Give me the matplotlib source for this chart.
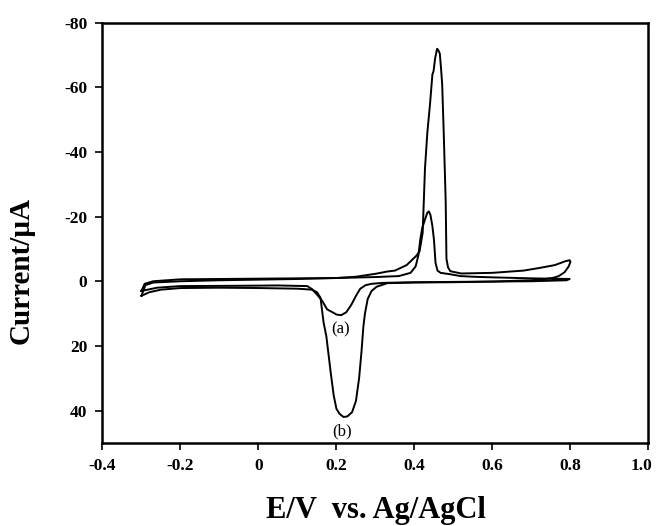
import matplotlib
matplotlib.use('Agg')
import matplotlib.pyplot as plt
import matplotlib.transforms as mtransforms

# ── Curve (a): forward scan then reverse scan ────────────────────────────────
E_a = [-0.300, -0.292, -0.270, -0.200, -0.100, 0.000, 0.100, 0.200, 0.300,
       0.360, 0.390, 0.403, 0.410, 0.415, 0.420, 0.428, 0.433, 0.437, 0.441,
       0.446, 0.450, 0.454, 0.459, 0.467, 0.490, 0.518, 0.550, 0.600, 0.700,
       0.798,
       0.790, 0.700, 0.600, 0.500, 0.400, 0.320, 0.290, 0.275, 0.261, 0.250,
       0.238, 0.225, 0.212, 0.200, 0.193, 0.176, 0.163, 0.150, 0.137, 0.125,
       0.050, -0.050, -0.200, -0.260, -0.300]
I_a = [3.0, 0.8, 0.0, -0.6, -0.7, -0.8, -0.9, -1.0, -1.3,
       -1.6, -2.6, -4.6, -8.0, -13.0, -16.5, -19.5, -21.2, -21.6, -20.5,
       -17.0, -12.8, -5.7, -3.3, -2.6, -2.2, -1.6, -1.4, -1.2, -0.9,
       -0.7,
       -0.3, 0.0, 0.1, 0.2, 0.3, 0.5, 0.8, 1.2, 2.3, 4.5,
       7.3, 9.6, 10.5, 10.3, 9.8, 8.7, 6.0, 4.1, 2.4, 1.5,
       1.3, 1.4, 1.5, 2.0, 3.0]

# ── Curve (b): forward scan then reverse scan ────────────────────────────────
E_b = [-0.300, -0.290, -0.270, -0.200, -0.100, 0.000, 0.100, 0.200, 0.250,
       0.300, 0.330, 0.350, 0.380, 0.405, 0.413, 0.421, 0.424, 0.427, 0.433,
       0.440, 0.446, 0.449, 0.453, 0.458, 0.461, 0.465, 0.468, 0.471, 0.475,
       0.480, 0.482, 0.486, 0.492, 0.520, 0.600, 0.680, 0.720, 0.760, 0.787,
       0.798,
       0.800, 0.795, 0.785, 0.770, 0.757, 0.730, 0.697, 0.600, 0.500, 0.400,
       0.330, 0.303, 0.290, 0.280, 0.273, 0.269, 0.264, 0.258, 0.250, 0.240,
       0.228, 0.218, 0.208, 0.200, 0.193, 0.186, 0.180, 0.174, 0.167, 0.162,
       0.159, 0.150, 0.137, 0.100, 0.000, -0.100, -0.200, -0.250, -0.280,
       -0.300]
I_b = [4.5, 1.2, 0.4, 0.0, -0.3, -0.5, -0.7, -1.0, -1.4,
       -2.3, -3.0, -3.3, -5.0, -7.9, -9.2, -15.0, -25.0, -35.0, -46.0,
       -55.0, -64.0, -65.0, -69.0, -71.9, -71.5, -70.4, -66.0, -61.0, -46.0,
       -25.0, -7.0, -4.3, -3.1, -2.4, -2.6, -3.3, -4.1, -5.0, -6.2,
       -6.5,
       -6.0, -4.5, -2.8, -1.6, -1.1, -0.6, -0.3, 0.1, 0.3, 0.4,
       0.6, 1.7, 3.0, 5.5, 10.0, 14.0, 22.0, 30.0, 37.0, 40.5,
       41.8, 42.0, 41.0, 39.5, 35.4, 29.0, 23.0, 17.0, 12.8, 8.0,
       5.1, 3.4, 2.6, 2.3, 2.1, 2.0, 2.1, 2.6, 3.4,
       4.5]

x_ticks = [-0.4, -0.2, 0.0, 0.2, 0.4, 0.6, 0.8, 1.0]
x_tick_labels = ['-0.4', '-0.2', '0', '0.2', '0.4', '0.6', '0.8', '1.0']
y_ticks = [-80, -60, -40, -20, 0, 20, 40]
y_tick_labels = ['-80', '-60', '-40', '-20', '0', '20', '40']

SERIF = ['Liberation Serif', 'DejaVu Serif']

fig = plt.figure(figsize=(6.57, 5.26), dpi=100)
ax = fig.add_axes([0.156, 0.158, 0.831, 0.799])

ax.plot(E_a, I_a, color='black', lw=1.4)
ax.plot(E_b, I_b, color='black', lw=1.4)

ax.text(0.211, 15.0, '(a)', ha='center', va='center', fontsize=12,
        family=SERIF)
ax.text(0.215, 46.3, '(b)', ha='center', va='center', fontsize=12,
        family=SERIF)

ax.set_xlim(-0.4, 1.0)
ax.set_ylim(50, -80)

ax.tick_params(direction='out', length=5, width=1.2, top=False, right=False,
               pad=6)

ax.set_xticks(x_ticks)
ax.set_xticklabels(x_tick_labels)
ax.set_yticks(y_ticks)
ax.set_yticklabels(y_tick_labels)
for lbl in ax.get_xticklabels() + ax.get_yticklabels():
    lbl.set_family(SERIF)
    lbl.set_fontweight('bold')
    lbl.set_fontsize(12.5)

# last x label sits at the figure edge; nudge it in a little
last = ax.get_xticklabels()[-1]
last.set_transform(last.get_transform() +
                   mtransforms.ScaledTranslation(-5 / 72, 0, fig.dpi_scale_trans))

for sp in ax.spines.values():
    sp.set_linewidth(1.8)

ax.set_xlabel('E/V  vs. Ag/AgCl', family=SERIF, fontweight='bold',
              fontsize=22, labelpad=16)
ax.set_ylabel('Current/\u00b5A', family=SERIF, fontweight='bold',
              fontsize=21)
ax.yaxis.set_label_coords(-0.124, 0.41)

fig.savefig('out.png', dpi=100)
